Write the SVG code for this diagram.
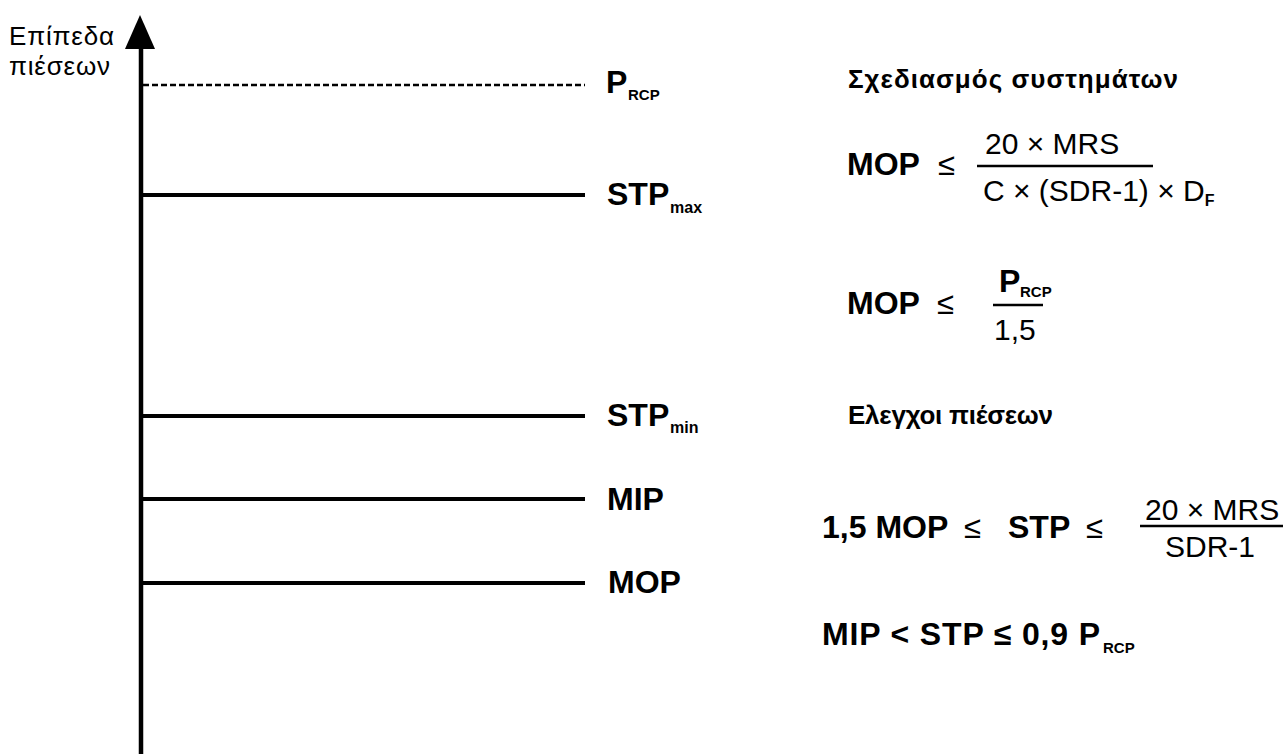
<svg xmlns="http://www.w3.org/2000/svg" width="1283" height="754" viewBox="0 0 1283 754">
<style>
text{font-family:"Liberation Sans",Arial,sans-serif;fill:#000}
.lbl{font-size:32px;font-weight:bold}
.sub{font-size:15px;font-weight:bold}
.subn{font-size:16px;font-weight:bold}
.h{font-size:26px;font-weight:bold}
.f{font-size:30px}
.le{font-size:31px}
.ln{stroke:#000;stroke-width:4;fill:none}
.fr{stroke:#000;stroke-width:2.5}
</style>
<rect width="1283" height="754" fill="#fff"/>
<g id="axis">
<line x1="141" y1="40" x2="141" y2="754" stroke="#000" stroke-width="4.5"/>
<polygon points="140,15 125,49 155,49" fill="#000"/>
<text x="9" y="45" font-size="26" textLength="105">Επίπεδα</text>
<text x="9" y="75" font-size="26" textLength="101">πιέσεων</text>
</g>
<g id="connectors">
<line x1="143" y1="85" x2="585" y2="85" stroke="#000" stroke-width="2.5" stroke-dasharray="6,3"/>
<line class="ln" x1="141" y1="195" x2="585" y2="195"/>
<line class="ln" x1="141" y1="416" x2="585" y2="416"/>
<line class="ln" x1="141" y1="499" x2="585" y2="499"/>
<line class="ln" x1="141" y1="583" x2="585" y2="583"/>
</g>
<g id="level-prcp"><text x="606" y="93" class="lbl">P<tspan class="sub" x="628" dy="7">RCP</tspan></text></g>
<g id="level-stpmax"><text x="607" y="205" class="lbl">STP<tspan class="subn" x="670" dy="8">max</tspan></text></g>
<g id="level-stpmin"><text x="607" y="426" class="lbl">STP<tspan class="subn" x="670" dy="7">min</tspan></text></g>
<g id="level-mip"><text x="607" y="510" class="lbl">MIP</text></g>
<g id="level-mop"><text x="608" y="593" class="lbl">MOP</text></g>
<g id="design">
<text x="848" y="88" class="h" textLength="330">Σχεδιασμός συστημάτων</text>
<text x="847" y="175" class="lbl">MOP</text>
<text x="938" y="175" class="le">≤</text>
<text x="985" y="154" class="f">20 × MRS</text>
<line class="fr" x1="977" y1="166" x2="1153" y2="166"/>
<text x="983" y="201" class="f">C × (SDR-1) × D<tspan class="subn" font-size="14" dy="5">F</tspan></text>
<text x="847" y="314" class="lbl">MOP</text>
<text x="937" y="314" class="le">≤</text>
<text x="999" y="292" class="lbl" font-size="29">P<tspan class="sub" font-size="14" x="1020" dy="5">RCP</tspan></text>
<line class="fr" x1="993" y1="305" x2="1043" y2="305"/>
<text x="994" y="340" class="f">1,5</text>
</g>
<g id="checks">
<text x="848" y="424" class="h" textLength="205">Ελεγχοι πιέσεων</text>
<text x="822" y="538" class="lbl">1,5 MOP</text>
<text x="964" y="538" class="le">≤</text>
<text x="1008" y="538" class="lbl">STP</text>
<text x="1086" y="538" class="le">≤</text>
<text x="1145" y="520" class="f">20 × MRS</text>
<line class="fr" x1="1140" y1="526" x2="1283" y2="526"/>
<text x="1165" y="557" class="f">SDR-1</text>
<text x="822" y="645" class="lbl" textLength="278">MIP &lt; STP ≤ 0,9 P</text>
<text x="1103" y="653" class="sub">RCP</text>
</g>
</svg>
